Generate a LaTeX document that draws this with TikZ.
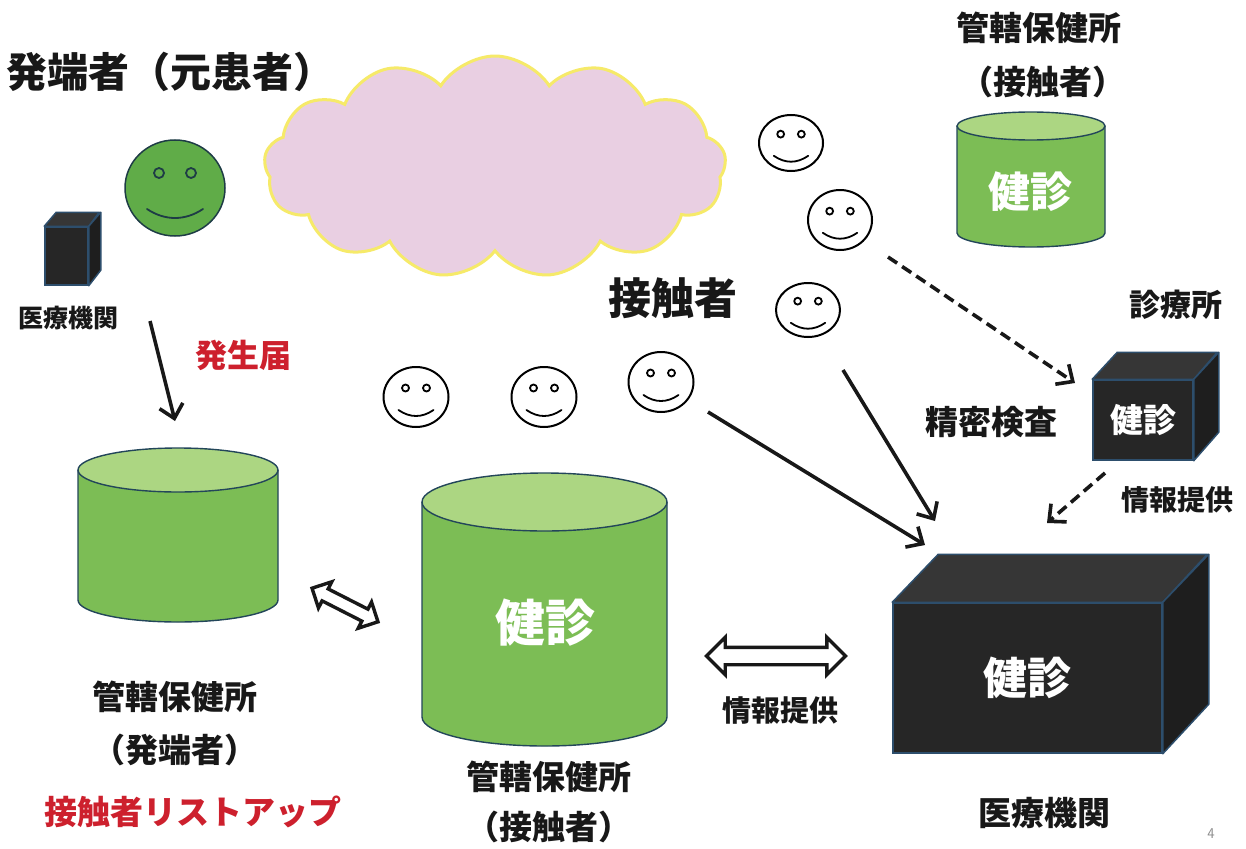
\documentclass[tikz,border=0pt]{standalone}
\usepackage{fontspec}
\newfontfamily\jp{Noto Sans CJK JP}
\usetikzlibrary{shapes.symbols,shapes.arrows,shapes.geometric,arrows.meta}

\definecolor{tankbody}{RGB}{124,189,85}
\definecolor{tanklid}{RGB}{172,214,130}
\definecolor{tankline}{RGB}{35,70,90}
\definecolor{facegreen}{RGB}{96,172,72}
\definecolor{faceline}{RGB}{30,60,70}
\definecolor{boxfront}{RGB}{38,38,38}
\definecolor{boxtop}{RGB}{54,54,54}
\definecolor{boxside}{RGB}{30,30,30}
\definecolor{boxline}{RGB}{45,78,108}
\definecolor{cloudfill}{RGB}{233,207,226}
\definecolor{cloudline}{RGB}{246,234,105}
\definecolor{alertred}{RGB}{205,32,45}
\definecolor{ink}{RGB}{24,24,24}

\newcommand\fsz[1]{\fontsize{#1}{#1}\selectfont}

% solid block with a front face node (name, x1, y1, x2, y2, dx, dy, text, size)
\newcommand\block[9]{%
  \node[frontface, minimum width={#4-#2}, minimum height={#5-#3}]
    (#1) at ({(#2+#4)/2},{(#3+#5)/2}) {\fsz{#9}#8};
  \filldraw[topface] (#1.north west) -- ++(#6,#7) -- ++({#4-#2},0)
    -- (#1.north east) -- cycle;
  \filldraw[sideface] (#1.north east) -- ++(#6,#7) -- ++(0,{#5-#3})
    -- (#1.south east) -- cycle;
}

% upright tank (name, cx, top y, bottom y, rx, ry)
\newcommand\tank[6]{%
  \pgfmathsetmacro\kx{0.5523*#5}\pgfmathsetmacro\ky{0.5523*#6}
  \fill[tankbody] ({#2-#5},#3) -- ({#2-#5},#4)
    .. controls ({#2-#5},{#4+\ky}) and ({#2-\kx},{#4+#6}) .. (#2,{#4+#6})
    .. controls ({#2+\kx},{#4+#6}) and ({#2+#5},{#4+\ky}) .. ({#2+#5},#4)
    -- ({#2+#5},#3) -- cycle;
  \draw[tankedge] ({#2-#5},#3) -- ({#2-#5},#4)
    .. controls ({#2-#5},{#4+\ky}) and ({#2-\kx},{#4+#6}) .. (#2,{#4+#6})
    .. controls ({#2+\kx},{#4+#6}) and ({#2+#5},{#4+\ky}) .. ({#2+#5},#4)
    -- ({#2+#5},#3);
  \filldraw[tankedge, fill=tanklid] (#2,#3) ellipse[x radius=#5, y radius=#6];
  \coordinate (#1) at (#2,{(#3+#4)/2});
}

% outlined smiling face (name, x, y, rx, ry)
\newcommand\smiley[5]{%
  \node[faceshape, minimum width={2*#4}, minimum height={2*#5}] (#1) at (#2,#3) {};
  \pgfmathsetmacro\fk{#4/32.5}
  \draw[facestroke] ([shift={({-10.5*\fk},{-9*\fk})}]#1.center) circle[radius={3.5*\fk}];
  \draw[facestroke] ([shift={({10.5*\fk},{-9*\fk})}]#1.center) circle[radius={3.5*\fk}];
  \draw[facestroke] ([shift={({-17.5*\fk},{13*\fk})}]#1.center)
    .. controls ([shift={({-6*\fk},{21*\fk})}]#1.center)
    and ([shift={({6*\fk},{21*\fk})}]#1.center)
    .. ([shift={({17.5*\fk},{13*\fk})}]#1.center);
}

\begin{document}
\begin{tikzpicture}[x=1pt, y=-1pt,
  jtxt/.style={font=\jp\bfseries, text=ink, inner sep=0pt},
  redtxt/.style={jtxt, text=alertred},
  lidtxt/.style={jtxt, text=white},
  frontface/.style={draw=boxline, fill=boxfront, line width=1.5pt, inner sep=0pt,
    font=\jp\bfseries, text=white},
  topface/.style={draw=boxline, fill=boxtop, line width=1.5pt, line join=round},
  sideface/.style={draw=boxline, fill=boxside, line width=1.5pt, line join=round},
  tankedge/.style={draw=tankline, line width=1.4pt},
  faceshape/.style={ellipse, draw=black, fill=white, line width=2pt, inner sep=0pt},
  facestroke/.style={draw=black, line width=1.8pt, line cap=round},
  flow/.style={draw=ink, line width=3.6pt, -{Straight Barb[length=13pt, width=24pt]}},
  dashflow/.style={flow, dash pattern=on 11pt off 6pt},
  hollow/.style={double arrow, draw=ink, fill=white, line width=3.4pt, inner xsep=0pt,
    minimum width=0pt, double arrow tip angle=90}
]
\useasboundingbox (0,0) rectangle (1246,848);
\fill[white] (0,0) rectangle (1246,848);

% ---- index case ----
\node[jtxt, anchor=west] (title) at (6,72) {\fsz{41}発端者（元患者）};

\node[ellipse, fill=facegreen, draw=faceline, line width=1.5pt, inner sep=0pt,
  minimum width=100pt, minimum height=96pt] (src) at (175,188) {};
\draw[faceline, line width=1.8pt] ([shift={(-16,-15)}]src.center) circle[radius=5];
\draw[faceline, line width=1.8pt] ([shift={(16,-15)}]src.center) circle[radius=5];
\draw[faceline, line width=1.8pt, line cap=round] ([shift={(-28,21)}]src.center)
  .. controls ([shift={(-10,33)}]src.center) and ([shift={(10,33)}]src.center)
  .. ([shift={(28,21)}]src.center);

\block{clinicA}{45}{227}{88}{285}{12}{-14}{}{10}
\node[jtxt] (clinicAlbl) at (68,318) {\fsz{25}医療機関};

\node[redtxt] (notice) at (243,355) {\fsz{32}発生届};

% ---- cloud of exposure ----
\node[cloud, cloud puffs=13, cloud puff arc=115, cloud ignores aspect,
  minimum width=462pt, minimum height=222pt, fill=cloudfill, draw=cloudline,
  line width=3pt] (cloud) at (495,167) {};

% ---- contacts ----
\node[jtxt] (contacts) at (673,298) {\fsz{43}接触者};
\smiley{p1}{791}{143}{32}{28}
\smiley{p2}{840}{220}{32}{30}
\smiley{p3}{808}{310}{32}{27}
\smiley{p4}{416}{397}{32.5}{30}
\smiley{p5}{544}{397}{32.5}{30}
\smiley{p6}{661}{382}{32.5}{30}

% ---- public health centre of the contacts (top right) ----
\node[jtxt] (hcTopA) at (1039,28) {\fsz{33}管轄保健所};
\node[jtxt] (hcTopB) at (1043,82) {\fsz{33}（接触者）};
\tank{tankTop}{1031}{126}{233}{74}{14}
\node[lidtxt] (tankTopLbl) at (1030,192) {\fsz{42}健診};

% ---- clinic ----
\node[jtxt] (clinicLbl) at (1176,305) {\fsz{31}診療所};
\block{clinicB}{1093}{380}{1193}{460}{25}{-27}{健診}{33}
\node[jtxt] (detail) at (991,422) {\fsz{33}精密検査};
\node[jtxt] (infoR) at (1177,500) {\fsz{28}情報提供};

% ---- hospital ----
\block{hosp}{893}{603}{1162}{753}{46}{-48}{健診}{44}
\node[jtxt] (hospLbl) at (1044,813) {\fsz{33}医療機関};

% ---- public health centre of the index case ----
\tank{tankLeft}{178}{470}{600}{100}{22}
\node[jtxt] (hcLeftA) at (175,697) {\fsz{33}管轄保健所};
\node[jtxt] (hcLeftB) at (175,750) {\fsz{33}（発端者）};
\node[redtxt] (listup) at (193,812) {\fsz{33}接触者リストアップ};

% ---- public health centre of the contacts (middle) ----
\tank{tankMid}{544.5}{502}{717}{122.5}{29}
\node[lidtxt] (tankMidLbl) at (545,623) {\fsz{50}健診};
\node[jtxt] (hcMidA) at (549,777) {\fsz{33}管轄保健所};
\node[jtxt] (hcMidB) at (549,827) {\fsz{33}（接触者）};

% ---- information exchange ----
\node[hollow, minimum height=74pt, inner ysep=5pt, double arrow head extend=8pt,
  rotate=-27] (xLeft) at (345,605) {};
\node[hollow, minimum height=139pt, inner ysep=7pt, double arrow head extend=10pt]
  (xMid) at (776,656) {};
\node[jtxt] (infoM) at (780,710) {\fsz{29}情報提供};

% ---- connectors ----
\coordinate (a1s) at (150,321); \coordinate (a1e) at (175,421);
\draw[flow] (a1s) -- (a1e);
\coordinate (a2s) at (708,412); \coordinate (a2e) at (925,545);
\draw[flow] (a2s) -- (a2e);
\coordinate (a3s) at (843,370); \coordinate (a3e) at (935,521);
\draw[flow] (a3s) -- (a3e);
\coordinate (d1s) at (888,257); \coordinate (d1e) at (1075,383);
\draw[dashflow] (d1s) -- (d1e);
\coordinate (d2s) at (1105,473); \coordinate (d2e) at (1047,523);
\draw[dashflow] (d2s) -- (d2e);

\node[font=\sffamily, text=black!45, inner sep=0pt] (pageno) at (1211,834) {\fsz{15}4};
\end{tikzpicture}
\end{document}
